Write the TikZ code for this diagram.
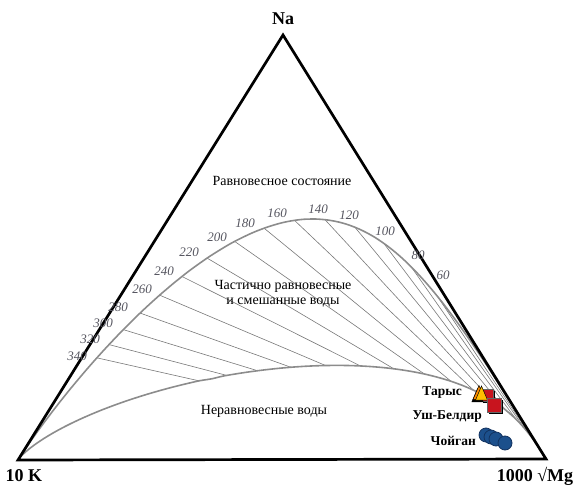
\documentclass[tikz,border=0pt]{standalone}
\usepackage{fontspec}
\setmainfont{Liberation Serif}

\definecolor{curvegray}{RGB}{140,140,140}
\definecolor{isogray}{RGB}{120,120,120}
\definecolor{labgray}{RGB}{85,85,95}
\definecolor{mkyellow}{RGB}{255,190,0}
\definecolor{mkred}{RGB}{200,20,30}
\definecolor{mkblue}{RGB}{28,80,140}
\definecolor{mkbluedark}{RGB}{18,50,95}

\tikzset{
  edge/.style={line width=2.7pt},
  eqline/.style={curvegray,line width=1.6pt},
  iso/.style={isogray,line width=0.6pt},
  tlab/.style={font=\fontsize{13}{14}\selectfont\itshape,text=labgray,inner sep=0pt},
  vlab/.style={font=\fontsize{18}{20}\selectfont\bfseries,inner sep=0pt},
  slab/.style={font=\fontsize{13.5}{15}\selectfont\bfseries,anchor=east,inner sep=0pt},
  zone/.style={align=center,inner sep=0pt}
}

\begin{document}
\begin{tikzpicture}[x=1pt,y=-1pt,font=\fontsize{14}{14.5}\selectfont,
    declare function={
      bk(\u)=exp(2.302585*(2.75-1.39*\u));
      cf(\u)=exp(2.302585*(0.815*\u-2.25));
      cl(\u)=exp(2.302585*(0.8163*\u-1.2024));
      px(\b,\c)=283/(1+\b+\c)+18*(\b/(1+\b+\c))+546*(\c/(1+\b+\c));
      py(\b,\c)=35/(1+\b+\c)+460*(\b/(1+\b+\c))+459*(\c/(1+\b+\c));
    }]
    \useasboundingbox (0,0) rectangle (580,486);

    \coordinate (pNa) at (283,35);
    \coordinate (pK) at (18,460);
    \coordinate (pMg) at (546,459);

    % isotherms between the two equilibrium lines
    \foreach \t in {60,80,...,340}{
        \pgfmathsetmacro\u{1000/(\t+273.15)}
        \coordinate (f\t) at ({px(bk(\u),cf(\u))},{py(bk(\u),cf(\u))});
        \coordinate (l\t) at ({px(bk(\u),cl(\u))},{py(bk(\u),cl(\u))});
        \draw[iso] (f\t) -- (l\t);
    }

    \draw[eqline] plot[domain=0.15:5,samples=220,variable=\u,smooth]
        ({px(bk(\u),cf(\u))},{py(bk(\u),cf(\u))});
    \draw[eqline] plot[domain=0.15:5,samples=220,variable=\u,smooth]
        ({px(bk(\u),cl(\u))},{py(bk(\u),cl(\u))});

    \draw[edge] (pNa) -- (pK) -- (pMg) -- cycle;

    \node[vlab] (na) at (283,19) {Na};
    \node[vlab] (k) at (24,476) {10 K};
    \node[vlab] (mg) at (535,476) {1000 √Mg};

    \foreach \t/\x/\y in {60/443/275,80/418/255,100/385/231,120/349/215,
        140/318/209,160/277/213,180/245/223,200/217/237,220/189/252,
        240/164/271,260/142/289,280/118/307,300/103/323,320/90/339,340/77/356}
        \node[tlab] (t\t) at (\x,\y) {\t};

    \node[zone] (full) at (282,181) {Равновесное состояние};
    \node[zone] (partial) at (283,294) {Частично равновесные\\и смешанные воды};
    \node[zone] (immature) at (264,411) {Неравновесные воды};

    \node[slab] (tarys) at (462,393) {Тарыс};
    \node[slab] (ush) at (482,417) {Уш-Белдир};
    \node[slab] (choy) at (476,441) {Чойган};

    \fill[black] (483,391) rectangle (495,403);
    \filldraw[fill=mkred,draw=black!60,line width=0.4pt] (481,389) rectangle (493,401);
    \fill[black] (477.5,388) -- (483.5,402) -- (471.5,402) -- cycle;
    \filldraw[fill=orange!80!mkyellow,draw=black,line width=0.5pt]
        (479,385.5) -- (485,399.5) -- (473,399.5) -- cycle;
    \filldraw[fill=mkyellow,draw=black,line width=0.5pt]
        (481.5,386) -- (487.5,400) -- (475.5,400) -- cycle;
    \fill[black] (489,400) rectangle (503,414);
    \filldraw[fill=mkred,draw=black!60,line width=0.4pt] (487,398) rectangle (501,412);

    \foreach \cx/\cy in {486/435,491/437,496/439,505/443}
        \filldraw[fill=mkblue,draw=mkbluedark,line width=0.8pt] (\cx,\cy) circle (7);
\end{tikzpicture}
\end{document}
